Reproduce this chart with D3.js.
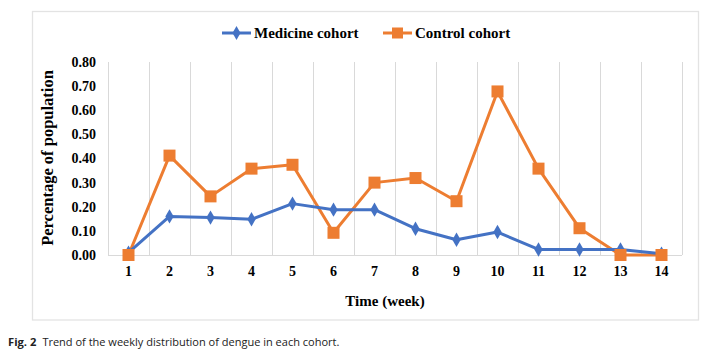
<!DOCTYPE html>
<html><head><meta charset="utf-8">
<script src="https://cdn.jsdelivr.net/npm/d3@7"></script>
<style>
html,body{margin:0;padding:0;background:#fff;}
svg{display:block;}
</style></head>
<body>
<svg id="chart" width="708" height="356"></svg>
<script>
const weeks = ["1","2","3","4","5","6","7","8","9","10","11","12","13","14"];
const medicine = [0.01,0.16,0.155,0.148,0.213,0.188,0.188,0.109,0.063,0.095,0.023,0.023,0.023,0.005];
const control  = [0.00,0.412,0.243,0.358,0.374,0.092,0.30,0.319,0.223,0.678,0.358,0.111,0.00,0.00];
const yTicks = [0,0.1,0.2,0.3,0.4,0.5,0.6,0.7,0.8];
const seriesNames = ["Medicine cohort","Control cohort"];
const colors = ["#4472C4","#ED7D31"];

const svg = d3.select("#chart");
const serif = "'Liberation Serif','Times New Roman',serif";

// outer frame
svg.append("rect").attr("x",32.5).attr("y",11.5).attr("width",666).attr("height",308.5)
  .attr("fill","#fff").attr("stroke","#e3e3e3").attr("stroke-width",1.3);

const x = d3.scaleBand().domain(weeks).range([108,682]).padding(0);
const y = d3.scaleLinear().domain([0,0.8]).range([255,62]);

// vertical gridlines at category boundaries
const bounds = weeks.map(w=>x(w)).concat([x.range()[1]]);
svg.append("g").selectAll("line").data(bounds).join("line")
  .attr("x1",d=>d+0.5).attr("x2",d=>d+0.5).attr("y1",y(0.8)).attr("y2",y(0))
  .attr("stroke","#d9d9d9").attr("stroke-width",1);
// x axis baseline
svg.append("line").attr("x1",108).attr("x2",682).attr("y1",y(0)+0.5).attr("y2",y(0)+0.5)
  .attr("stroke","#d9d9d9").attr("stroke-width",1);

// y axis labels
const yAxis = d3.axisLeft(y).tickValues(yTicks).tickFormat(d3.format(".2f")).tickSize(0).tickPadding(12);
const gy = svg.append("g").attr("transform","translate(108,0)").call(yAxis);
gy.select(".domain").remove();
gy.selectAll("text").attr("font-family",serif).attr("font-weight","bold").attr("font-size",14).attr("fill","#000");

// x axis labels
const xAxis = d3.axisBottom(x).tickSize(0).tickPadding(11);
const gx = svg.append("g").attr("transform",`translate(0,${y(0)})`).call(xAxis);
gx.select(".domain").remove();
gx.selectAll("text").attr("font-family",serif).attr("font-weight","bold").attr("font-size",14).attr("fill","#000");

// axis titles
svg.append("text").attr("x",385).attr("y",306).attr("text-anchor","middle")
  .attr("font-family",serif).attr("font-weight","bold").attr("font-size",15).text("Time (week)");
svg.append("text").attr("transform","translate(53,158) rotate(-90)").attr("text-anchor","middle")
  .attr("font-family",serif).attr("font-weight","bold").attr("font-size",16.5).text("Percentage of population");

const cx = d => x(d) + x.bandwidth()/2;
const line = d3.line().x((d,i)=>cx(weeks[i])).y(d=>y(d));

// control series
svg.append("path").datum(control).attr("d",line).attr("fill","none").attr("stroke",colors[1]).attr("stroke-width",3).attr("stroke-linejoin","round");
// medicine series
svg.append("path").datum(medicine).attr("d",line).attr("fill","none").attr("stroke",colors[0]).attr("stroke-width",3).attr("stroke-linejoin","round");
svg.append("g").selectAll("path").data(medicine).join("path")
  .attr("transform",(d,i)=>`translate(${cx(weeks[i])},${y(d)})`)
  .attr("d",d3.symbol().type(d3.symbolDiamond).size(60)).attr("fill",colors[0]);
svg.append("g").selectAll("rect").data(control).join("rect")
  .attr("x",(d,i)=>cx(weeks[i])-6).attr("y",d=>y(d)-6).attr("width",12).attr("height",12)
  .attr("fill",colors[1]);

// legend
const leg = [{x0:222,x1:251,tx:254},{x0:383,x1:412,tx:415}];
leg.forEach((L,i)=>{
  svg.append("line").attr("x1",L.x0).attr("x2",L.x1).attr("y1",33).attr("y2",33).attr("stroke",colors[i]).attr("stroke-width",3);
  const mx=(L.x0+L.x1)/2;
  if(i===0){
    svg.append("path").attr("transform",`translate(${mx},33)`).attr("d",d3.symbol().type(d3.symbolDiamond).size(55)).attr("fill",colors[0]);
  } else {
    svg.append("rect").attr("x",mx-5.5).attr("y",27.5).attr("width",11).attr("height",11).attr("fill",colors[1]);
  }
  svg.append("text").attr("x",L.tx).attr("y",38).attr("font-family",serif).attr("font-weight","bold")
    .attr("font-size",15).text(seriesNames[i]);
});

// caption
const cap = svg.append("text").attr("x",8).attr("y",346).attr("font-family","'Open Sans','Noto Sans',sans-serif").attr("font-size",11.2).attr("fill","#222");
cap.append("tspan").attr("font-weight","bold").text("Fig. 2");
cap.append("tspan").attr("dx",6).attr("textLength",297).attr("lengthAdjust","spacingAndGlyphs").text("Trend of the weekly distribution of dengue in each cohort.");
</script>
</body></html>
